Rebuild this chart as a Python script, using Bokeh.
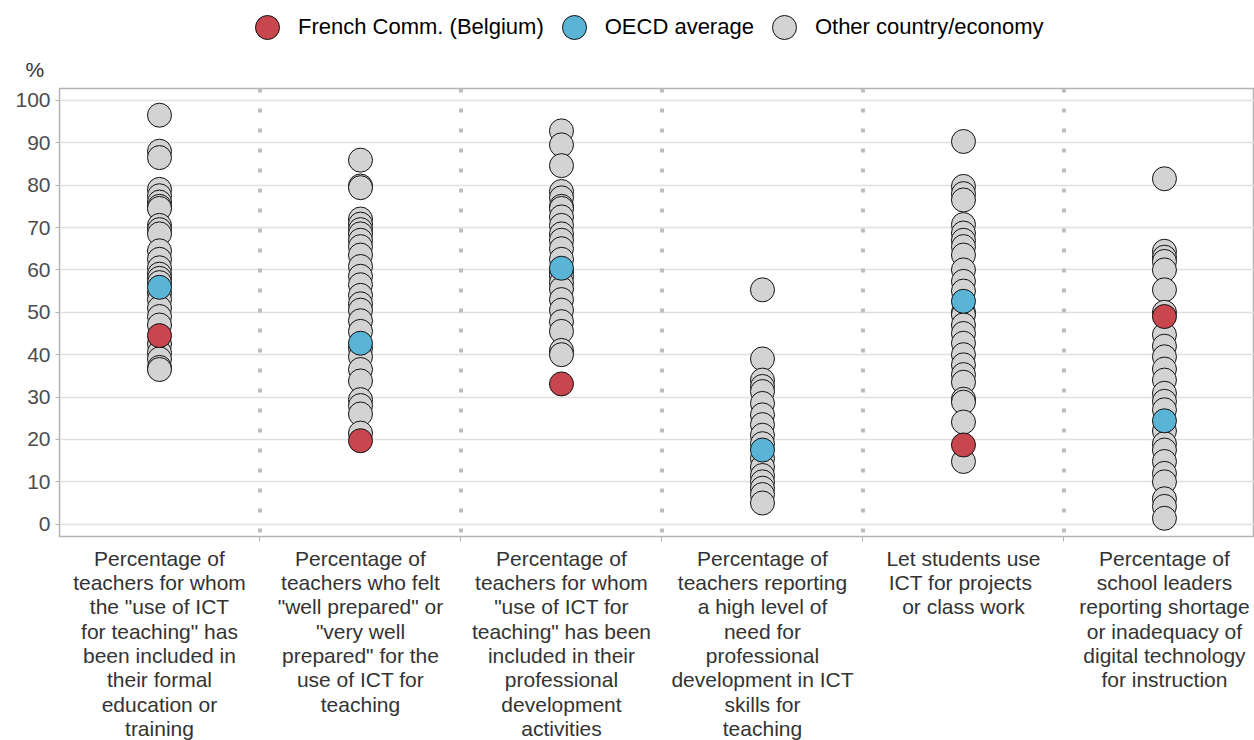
from bokeh.plotting import figure
from bokeh.layouts import column
from bokeh.models import (Range1d, FixedTicker, Legend, LegendItem, Span, Title)
from bokeh.embed import file_html
from bokeh.resources import INLINE

categories = [
    "Percentage of\nteachers for whom\nthe \"use of ICT\nfor teaching\" has\nbeen included in\ntheir formal\neducation or\ntraining",
    "Percentage of\nteachers who felt\n\"well prepared\" or\n\"very well\nprepared\" for the\nuse of ICT for\nteaching",
    "Percentage of\nteachers for whom\n\"use of ICT for\nteaching\" has been\nincluded in their\nprofessional\ndevelopment\nactivities",
    "Percentage of\nteachers reporting\na high level of\nneed for\nprofessional\ndevelopment in ICT\nskills for\nteaching",
    "Let students use\nICT  for projects\nor class work",
    "Percentage of\nschool leaders\nreporting shortage\nor inadequacy of\ndigital technology\nfor instruction",
]

others_1 = [96.5, 88.0, 86.5, 79.0, 77.5, 76.0, 75.0, 74.5, 70.5, 69.5, 68.5, 64.5, 62.5,
            60.5, 59.0, 58.0, 57.0, 54.5, 53.0, 51.0, 49.0, 47.0, 42.5, 40.5, 39.0, 37.0, 36.5]
others_2 = [85.9, 79.8, 79.4, 72.0, 70.8, 69.5, 68.5, 67.0, 65.5, 63.5, 60.8, 58.5, 56.5,
            54.0, 52.0, 50.5, 48.0, 45.5, 41.5, 39.5, 36.5, 33.8, 29.4, 28.0, 26.0, 21.5]
others_3 = [92.8, 89.5, 84.6, 78.5, 77.0, 75.0, 74.5, 72.5, 70.5, 68.5, 67.0, 65.0, 62.5,
            59.5, 58.5, 57.0, 55.5, 53.0, 50.5, 47.8, 45.5, 41.0, 40.0]
others_4 = [55.3, 39.0, 34.0, 32.5, 31.3, 28.5, 25.8, 23.5, 21.0, 19.0, 15.5, 13.5, 11.5,
            10.0, 8.5, 7.0, 5.0]
others_5 = [90.3, 79.7, 78.0, 76.5, 70.7, 68.7, 67.0, 65.5, 63.5, 60.0, 57.3, 55.0, 50.0,
            49.4, 47.0, 45.0, 42.7, 40.0, 37.6, 35.3, 33.5, 29.5, 28.8, 24.1, 14.8]
others_6 = [81.5, 64.4, 63.0, 62.0, 60.0, 55.3, 50.0, 44.7, 42.0, 39.5, 36.6, 34.0, 30.9,
            29.0, 27.0, 22.0, 19.0, 17.5, 14.8, 12.0, 10.0, 6.0, 4.2, 1.4]
others = [others_1, others_2, others_3, others_4, others_5, others_6]

french = [44.5, 19.7, 33.1, None, 18.7, 49.0]
oecd = [55.9, 42.7, 60.4, 17.5, 52.6, 24.4]

series_names = ["French Comm. (Belgium)", "OECD average", "Other country/economy"]
y_ticks = [0, 10, 20, 30, 40, 50, 60, 70, 80, 90, 100]
unit_label = "%"

GREY = "#d3d3d3"
RED = "#c8474f"
BLUE = "#5ab4d5"
EDGE = "#111111"
FONT = "Liberation Sans"

ncat = len(categories)
fx = [i for i, v in enumerate(french) if v is not None]
fy = [v for v in french if v is not None]
bx = list(range(ncat))
ox, oy = [], []
for i, vals in enumerate(others):
    ox += [i] * len(vals)
    oy += vals

# ---------------- header (legend) ----------------
top = figure(width=1254, height=47, output_backend="svg", toolbar_location=None,
             x_range=Range1d(-20, -19), y_range=Range1d(-20, -19),
             x_axis_location=None, y_axis_location=None,
             min_border=0, outline_line_color=None)
top.grid.visible = False
# proxy renderers for the legend (their points lie outside this header's ranges)
l_fr = top.scatter(x=fx[:1], y=fy[:1], size=24, fill_color=RED, line_color=EDGE, line_width=1)
l_oe = top.scatter(x=bx[:1], y=oecd[:1], size=24, fill_color=BLUE, line_color=EDGE, line_width=1)
l_ot = top.scatter(x=ox[:1], y=oy[:1], size=24, fill_color=GREY, line_color=EDGE, line_width=1)
legend = Legend(items=[LegendItem(label=series_names[0], renderers=[l_fr]),
                       LegendItem(label=series_names[1], renderers=[l_oe]),
                       LegendItem(label=series_names[2], renderers=[l_ot])],
                orientation="horizontal", location=(178, -10),
                glyph_width=60, glyph_height=60, label_standoff=1, spacing=0,
                padding=0, margin=0,
                label_text_font=FONT, label_text_font_size="22px", label_text_color="#000000",
                border_line_color=None, background_fill_alpha=0)
top.add_layout(legend, "center")

# ---------------- main chart ----------------
p = figure(width=1254, frame_height=448, output_backend="svg", toolbar_location=None,
           x_range=Range1d(-0.4975, 5.448), y_range=Range1d(-2.9, 102.8),
           min_border_left=59, min_border_top=40, min_border_right=0, min_border_bottom=0)
p.title = Title(text=unit_label, align="left", offset=-34, standoff=16,
                vertical_align="bottom", text_font=FONT, text_font_size="21px",
                text_font_style="normal", text_color="#333333")

p.outline_line_color = "#b3b3b3"
p.outline_line_width = 1.5

p.xgrid.visible = False
p.ygrid.ticker = FixedTicker(ticks=y_ticks)
p.ygrid.grid_line_color = "#e0e0e0"
p.ygrid.grid_line_width = 1.5

for i in range(ncat - 1):
    p.add_layout(Span(location=i + 0.5, dimension="height", line_color="#bdbdbd",
                      line_width=4, line_dash="4 16"))

p.scatter(ox, oy, size=24, fill_color=GREY, line_color=EDGE, line_width=1)
p.scatter(bx, oecd, size=24, fill_color=BLUE, line_color=EDGE, line_width=1)
p.scatter(fx, fy, size=24, fill_color=RED, line_color=EDGE, line_width=1)

ya = p.yaxis[0]
ya.ticker = FixedTicker(ticks=y_ticks)
ya.axis_line_color = "#b3b3b3"
ya.major_tick_line_color = "#b3b3b3"
ya.major_tick_out = 4
ya.major_tick_in = 0
ya.minor_tick_line_color = None
ya.major_label_text_font = FONT
ya.major_label_text_font_size = "21px"
ya.major_label_text_color = "#4d4d4d"
ya.major_label_standoff = 5

xa = p.xaxis[0]
xa.ticker = FixedTicker(ticks=list(range(ncat)), minor_ticks=[i + 0.5 for i in range(ncat - 1)])
xa.major_label_overrides = {i: c for i, c in enumerate(categories)}
xa.axis_line_color = "#b3b3b3"
xa.major_tick_line_color = None
xa.major_tick_out = 0
xa.major_tick_in = 0
xa.minor_tick_line_color = "#b3b3b3"
xa.minor_tick_out = 5
xa.minor_tick_in = 0
xa.major_label_text_font = FONT
xa.major_label_text_font_size = "21px"
xa.major_label_text_color = "#333333"
xa.major_label_text_line_height = 1.06
xa.major_label_standoff = 5

layout = column(top, p, spacing=0)
open("out.html", "w").write(file_html(layout, INLINE))
